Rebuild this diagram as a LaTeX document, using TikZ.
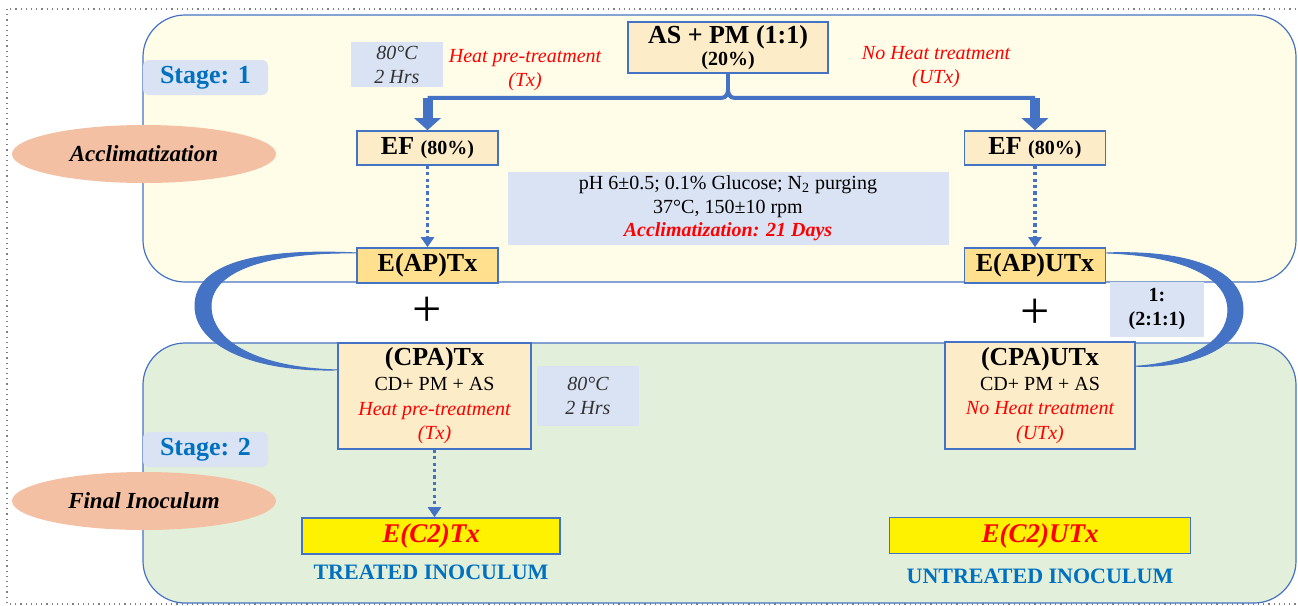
\documentclass[tikz,border=0pt]{standalone}
\usepackage{fontspec}
\setmainfont{Liberation Serif}
\usepackage{tikz}
\usetikzlibrary{positioning,arrows.meta,shapes.geometric}
\definecolor{creamyellow}{RGB}{255,253,231}
\definecolor{palegreen}{RGB}{226,239,218}
\definecolor{peach}{RGB}{244,192,164}
\definecolor{paleblue}{RGB}{218,227,243}
\definecolor{boxcream}{RGB}{253,236,200}
\definecolor{boxgold}{RGB}{255,224,142}
\definecolor{edgeblue}{RGB}{68,114,196}
\definecolor{stageblue}{RGB}{0,112,192}
\definecolor{notegray}{RGB}{50,50,50}

\begin{document}
\begin{tikzpicture}[-latex ,auto ,node distance = 58.75pt and 303.75pt ,on grid, semithick, x=0.5pt, y=-0.5pt,
    panel/.style={draw=edgeblue, line width=0.6pt, rounded corners=21pt},
    mixbox/.style={rectangle, fill=boxcream, draw=edgeblue, line width=0.8pt, inner sep=0pt, align=center, font=\bfseries\fontsize{13}{11}\selectfont},
    goldbox/.style={mixbox, fill=boxgold},
    finalbox/.style={rectangle, fill=yellow, draw=edgeblue, line width=0.8pt, inner sep=0pt, text=red, font=\bfseries\itshape\fontsize{13.5}{15}\selectfont},
    notebox/.style={rectangle, fill=paleblue, inner sep=0pt, align=center},
    stagebox/.style={notebox, rounded corners=3pt, minimum width=62.5pt, minimum height=17.5pt, text=stageblue, font=\bfseries\fontsize{13}{15}\selectfont},
    phase/.style={ellipse, fill=peach, minimum width=132pt, minimum height=29pt, inner sep=0pt, font=\bfseries\itshape\fontsize{11.5}{13}\selectfont},
    redlbl/.style={text=red, align=center, font=\itshape\fontsize{10}{12}\selectfont},
    tagline/.style={text=stageblue, font=\bfseries\fontsize{11}{13}\selectfont},
    bigarrow/.style={-{Triangle[width=13pt,length=6pt]}, line width=5pt, draw=edgeblue},
    dotarrow/.style={-{Triangle[width=6.5pt,length=5pt]}, line width=1.8pt, draw=edgeblue, dash pattern=on 1.6pt off 1.6pt},
    crescent/.style={-, fill=edgeblue, draw=edgeblue, line width=0.5pt}]
        \clip (0,0) rectangle (1298,606);
        \draw[-, dotted, gray] (7,9) rectangle (1320,604);
        % stage panels
        \draw[panel, fill=creamyellow] (143,15) rectangle (1296,282);
        \draw[panel, fill=palegreen] (143,343) rectangle (1296,603);

        \node [phase] (accl) at (144,154) {Acclimatization};
        \node [phase] (finl) at (144,501) {Final Inoculum};
        \node [stagebox] (stg1) at (205.5,77.5) {Stage: 1};
        \node [stagebox] (stg2) at (205.5,449.5) {Stage: 2};

        \node [mixbox, minimum width=100pt, minimum height=25.5pt] (asPm) at (728,47.5) {AS + PM (1:1)\\{\fontsize{10}{11}\selectfont (20\%)}};
        \node [mixbox, minimum width=70.5pt, minimum height=17pt] (efT) at (427.5,148) {EF {\fontsize{10}{11}\selectfont (80\%)}};
        \node [mixbox, minimum width=70.5pt, minimum height=17pt] (efU) [right =of efT] {EF {\fontsize{10}{11}\selectfont (80\%)}};
        \node [goldbox, minimum width=70.5pt, minimum height=17.5pt] (eapT) [below =of efT] {E(AP)Tx};
        \node [goldbox, minimum width=70.5pt, minimum height=17.5pt] (eapU) [below =of efU] {E(AP)UTx};

        \node [notebox, minimum width=46pt, minimum height=22.5pt, text=notegray, font=\itshape\fontsize{10}{12}\selectfont] (heatA) at (397,64.5) {80°C\\2 Hrs};
        \node [redlbl] (lblTx) at (525,70) {Heat pre-treatment\\(Tx)};
        \node [redlbl] (lblUTx) at (936,67) {No Heat treatment\\(UTx)};
        \node [notebox, minimum width=220.5pt, minimum height=36.5pt, font=\fontsize{10}{11.75}\selectfont] (cond) [below =80.5pt of asPm] {pH 6±0.5; 0.1\% Glucose; N\textsubscript{2} purging\\37°C, 150±10 rpm\\{\color{red}\bfseries\itshape Acclimatization: 21 Days}};

        \node [font=\fontsize{26}{26}\selectfont] (plusT) [below =23.25pt of eapT] {+};
        \node [font=\fontsize{26}{26}\selectfont] (plusU) [below =24.25pt of eapU] {+};
        \node [notebox, minimum width=47pt, minimum height=27.5pt, font=\bfseries\fontsize{10}{12}\selectfont] (ratio) at (1157,309.5) {1:\\(2:1:1)};

        \node [mixbox, minimum width=96.5pt, minimum height=53pt, font=\fontsize{10}{12.3}\selectfont] (cpaT) [below right =65.25pt and 3.5pt of eapT] {{\bfseries\fontsize{13}{12}\selectfont (CPA)Tx}\\CD+ PM + AS\\{\color{red}\itshape Heat pre-treatment}\\{\color{red}\itshape (Tx)}};
        \node [mixbox, minimum width=95pt, minimum height=53.5pt, font=\fontsize{10}{12.3}\selectfont] (cpaU) [below right =65pt and 2.5pt of eapU] {{\bfseries\fontsize{13}{12}\selectfont (CPA)UTx}\\CD+ PM + AS\\{\color{red}\itshape No Heat treatment}\\{\color{red}\itshape (UTx)}};
        \node [notebox, minimum width=51pt, minimum height=30pt, text=notegray, font=\itshape\fontsize{10}{12}\selectfont] (heatB) [right =76.75pt of cpaT] {80°C\\2 Hrs};

        \node [finalbox, minimum width=129pt, minimum height=18pt] (ecT) [below left =70pt and 1.75pt of cpaT] {E(C2)Tx};
        \node [finalbox, minimum width=150.5pt, minimum height=18pt] (ecU) [below =70pt of cpaU] {E(C2)UTx};
        \node [tagline] (trT) [below =18pt of ecT] {TREATED INOCULUM};
        \node [tagline] (trU) [below =20.5pt of ecU] {UNTREATED INOCULUM};

        % split of the seed mix
        \coordinate (brc) at ([yshift=-12pt]asPm.south);
        \draw[-, line width=2pt, edgeblue] (efT |- brc) -- ([xshift=-3pt]brc) to[out=0,in=-90] ([yshift=4pt]brc) to[out=-90,in=180] ([xshift=3pt]brc) -- (efU |- brc);
        \draw[-, line width=2pt, edgeblue] (asPm.south) -- ([yshift=4pt]brc);
        \draw[bigarrow] (efT |- brc) -- (efT.north);
        \draw[bigarrow] (efU |- brc) -- (efU.north);
        \draw[dotarrow] (efT.south) -- (eapT.north);
        \draw[dotarrow] (efU.south) -- (eapU.north);
        \draw[dotarrow] (cpaT.south) -- (cpaT.south |- ecT.north);

        % crescents
        \path[crescent] (eapT.170) .. controls (250,248) and (195,266) .. (195,306) .. controls (195,345) and (252,372) .. (cpaT.165) .. controls (258,368) and (211,342) .. (211,306) .. controls (211,274) and (258,252) .. (eapT.170) -- cycle;
        \path[crescent] (eapU.10) .. controls (1195,250) and (1243,272) .. (1243,310) .. controls (1243,346) and (1195,368) .. (cpaU.17) .. controls (1190,363) and (1228,341) .. (1228,310) .. controls (1228,280) and (1190,256) .. (eapU.10) -- cycle;
\end{tikzpicture}
\end{document}
